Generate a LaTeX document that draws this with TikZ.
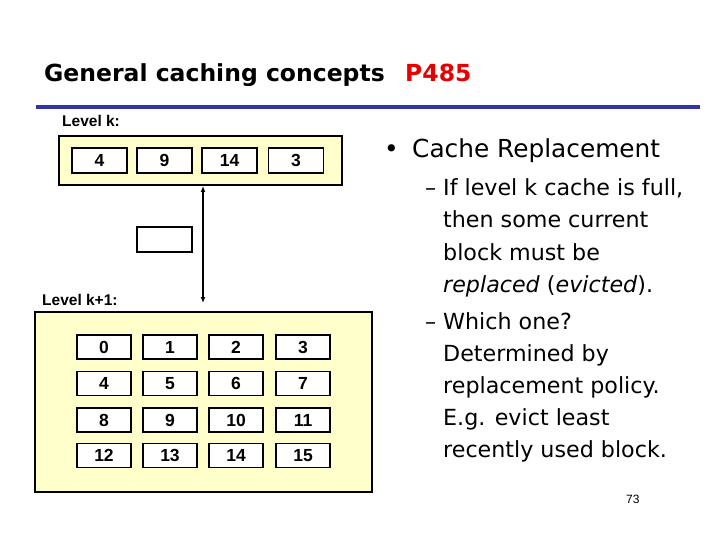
\documentclass[tikz,border=0pt]{standalone}
\usepackage{fontspec}
\setmainfont{Liberation Sans}
\newfontfamily\comic{DejaVu Sans}
\usetikzlibrary{arrows.meta}
\definecolor{boxyellow}{RGB}{255,255,204}
\definecolor{ruleblue}{RGB}{51,51,170}
\definecolor{titlered}{RGB}{230,0,0}
\tikzset{
  level/.style={draw=black, line width=1.8pt, fill=boxyellow},
  blk/.style={draw=black, line width=1.6pt, fill=white, minimum width=55pt, minimum height=25pt, inner sep=0pt, font=\bfseries\fontsize{17.5}{19}\selectfont},
  lbl/.style={anchor=west, inner sep=0pt, font=\bfseries\fontsize{15.5}{17}\selectfont},
  ttl/.style={anchor=base west, inner sep=0pt, font=\comic\bfseries\fontsize{23.5}{28}\selectfont},
  head/.style={anchor=base west, inner sep=0pt, font=\comic\fontsize{24.8}{29}\selectfont},
  txt/.style={anchor=base west, inner sep=0pt, font=\comic\fontsize{22.2}{26}\selectfont},
}
\begin{document}
\begin{tikzpicture}[x=1pt,y=-1pt]
\useasboundingbox (0,0) rectangle (720,540);
% title
\node[ttl] (title) at (44,82) {General caching concepts};
\node[ttl, text=titlered] (page) at (405,82) {P485};
\draw[ruleblue, line width=4pt] (36,107) -- (700,107);
% level k
\node[lbl] (lk) at (62,121) {Level k:};
\node[level, minimum width=283pt, minimum height=49pt, inner sep=0pt] (cachek) at (200.5,160.5) {};
\node[blk] (k0) at (99.5,160.5) {4};
\node[blk] (k1) at (164.5,160.5) {9};
\node[blk] (k2) at (229.5,160.5) {14};
\node[blk] (k3) at (296,160.5) {3};
\node[blk] (empty) at (164.5,239.5) {};
% level k+1
\node[lbl] (lk1) at (42,300) {Level k+1:};
\node[level, minimum width=337pt, minimum height=180pt, inner sep=0pt] (cachek1) at (203.5,402) {};
\foreach \r/\y in {0/347,1/383.5,2/420,3/455.5}{
  \foreach \c/\x in {0/104,1/170,2/236,3/303}{
    \pgfmathtruncatemacro{\n}{4*\r+\c}
    \node[blk, minimum width=54pt, minimum height=24pt] (m\n) at (\x,\y) {\n};
  }
}
% arrow
\coordinate (atop) at (203,186);
\coordinate (abot) at (203,303);
\draw[line width=1.4pt, {Latex[length=6pt,width=5pt]}-{Latex[length=6pt,width=5pt]}] (atop) -- (abot);
% right text
\node[head] (b1) at (384,158) {\textbullet};
\node[head] (hd) at (412,158) {Cache Replacement};
\node[txt] (d1) at (425,196) {–};
\node[txt] (t1) at (443,196) {If level k cache is full,};
\node[txt] (t2) at (443,228) {then some current};
\node[txt] (t3) at (443,260) {block must be};
\node[txt] (t4) at (443,292) {\textit{replaced} (\textit{evicted}).};
\node[txt] (d2) at (425,329) {–};
\node[txt] (t5) at (443,329) {Which one?};
\node[txt] (t6) at (443,361) {Determined by};
\node[txt] (t7) at (443,393) {replacement policy.};
\node[txt] (t8) at (443,425) {E.g. evict least};
\node[txt] (t9) at (443,457) {recently used block.};
\node[anchor=base west, inner sep=0pt, font=\rmfamily\fontsize{12}{14}\selectfont] (pg) at (626,503) {73};
\end{tikzpicture}
\end{document}
